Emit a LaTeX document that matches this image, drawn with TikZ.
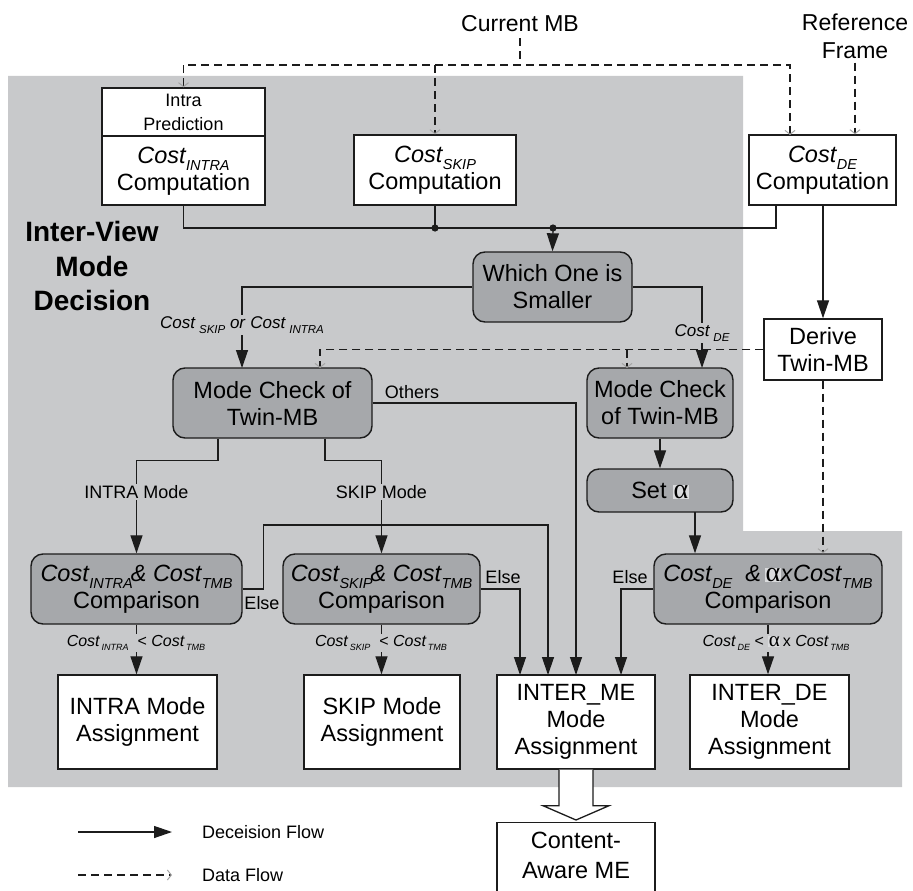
\documentclass[tikz,border=0pt]{standalone}
\usepackage{fontspec}
\setmainfont{Liberation Sans}
\newfontfamily\grkfont{Liberation Serif}
\usetikzlibrary{arrows.meta,calc}

\definecolor{bggray}{RGB}{200,201,203}
\definecolor{boxgray}{RGB}{166,168,171}
\definecolor{alhl}{RGB}{218,219,221}
\definecolor{ink}{RGB}{28,28,28}
\definecolor{tipgray}{RGB}{165,165,165}

% font sizes
\newcommand\bfs{\fontsize{23.5}{27}\selectfont}
\newcommand\sfs{\fontsize{18}{22}\selectfont}
\newcommand\lfs{\fontsize{17}{19}\selectfont}
\newcommand\mfs{\fontsize{16}{18}\selectfont}
% cost symbols: large (inside boxes), edge labels, and condition labels
\newcommand\Cb[1]{\textit{Cost\kern0.5pt\raisebox{-7pt}{\fontsize{14.5}{14.5}\selectfont #1}}}
\newcommand\Cl[1]{\textit{Cost\kern4pt\raisebox{-4.5pt}{\fontsize{11.5}{11.5}\selectfont #1}}}
\newcommand\Cm[1]{\textit{Cost\kern2pt\raisebox{-4.5pt}{\fontsize{9}{9}\selectfont #1}}}
% highlighted alpha
\newcommand\Al[1]{{\setlength\fboxsep{0.5pt}\colorbox{alhl}{\grkfont\fontsize{#1}{#1}\selectfont α}}}

\tikzset{
  ln/.style={draw=ink,line width=1.3pt},
  flow/.style={ln,-{Triangle[length=18pt,width=12pt]}},
  dline/.style={draw=ink,line width=1.4pt,dash pattern=on 8pt off 5pt},
  data/.style={dline,-{Straight Barb[length=4pt,width=10pt,color=tipgray,line width=1pt]}},
  sqbox/.style={draw=ink,line width=1.4pt,fill=white,inner sep=0pt,align=center,font=\bfs},
  rbox/.style={sqbox,fill=boxgray,rounded corners=12pt},
  lab/.style={fill=bggray,inner sep=1.5pt,font=\lfs},
  plain/.style={inner sep=0pt,align=center},
  dot/.style={fill=ink},
}

\begin{document}
\begin{tikzpicture}[x=1pt,y=-1pt]
\useasboundingbox (0,0) rectangle (913,891);
\clip (0,0) rectangle (913,891);
\fill[white] (0,0) rectangle (913,891);

% shaded decision region
\fill[bggray] (8,76) -- (743,76) -- (743,531) -- (902,531) -- (902,787) -- (8,787) -- cycle;

% inputs
\node[plain,font=\fontsize{23}{27}\selectfont,inner ysep=6pt] (curmb) at (520,24) {Current MB};
\node[plain,font=\fontsize{23}{28}\selectfont,inner ysep=4pt] (refframe) at (855,36) {Reference\\Frame};

% title
\node[plain,font=\bfseries\fontsize{28}{34.5}\selectfont] (title) at (92,266) {Inter-View\\Mode\\Decision};

% cost computation boxes
\node[sqbox,minimum width=163pt,minimum height=117pt] (intra) at (183.5,146.5) {};
\coordinate (intradiv) at (0,136);
\draw[draw=ink,line width=1.4pt] (intra.west |- intradiv) -- (intra.east |- intradiv);
\node[plain,font=\fontsize{18}{24}\selectfont] (intrapred) at (183.5,112) {Intra\\Prediction};
\node[plain,font=\bfs] (intracost) at (183.5,171) {\Cb{INTRA}\\Computation};

\node[sqbox,minimum width=162pt,minimum height=70pt] (skip) at (435,170) {\Cb{SKIP}\\Computation};
\node[sqbox,minimum width=147pt,minimum height=70pt] (de) at (822.5,170) {\Cb{DE}\\Computation};

% decision boxes
\node[rbox,minimum width=159pt,minimum height=70pt] (which) at (552.5,287) {Which One is\\Smaller};
\node[sqbox,minimum width=118pt,minimum height=61pt] (derive) at (823,349.5) {Derive\\Twin-MB};
\node[rbox,minimum width=199pt,minimum height=70pt] (mc1) at (272.5,403) {Mode Check of\\Twin-MB};
\node[rbox,minimum width=146pt,minimum height=70pt] (mc2) at (660,403) {Mode Check\\of Twin-MB};
\node[rbox,minimum width=146pt,minimum height=43pt] (seta) at (660,490.5) {Set \Al{28}};

\node[rbox,minimum width=211pt,minimum height=70pt] (cmpi) at (136.5,589) {\Cb{INTRA}\kern-2pt\textit{\& }\Cb{TMB}\\Comparison};
\node[rbox,minimum width=197pt,minimum height=70pt] (cmps) at (381.5,589) {\Cb{SKIP}\kern-2pt\textit{\& }\Cb{TMB}\\Comparison};
\node[rbox,minimum width=228pt,minimum height=70pt] (cmpd) at (768,589) {\Cb{DE}\ \ \textit{\&}\,\Al{28}\textit{x}\Cb{TMB}\\Comparison};

% assignment boxes
\node[sqbox,minimum width=159pt,minimum height=94pt] (asgi) at (137.5,722) {INTRA Mode\\Assignment};
\node[sqbox,minimum width=156pt,minimum height=94pt] (asgs) at (382,722) {SKIP Mode\\Assignment};
\node[sqbox,minimum width=158pt,minimum height=94pt] (asgm) at (576,722) {INTER\_ME\\Mode\\Assignment};
\node[sqbox,minimum width=159pt,minimum height=94pt] (asgd) at (769.5,722) {INTER\_DE\\Mode\\Assignment};

\node[sqbox,minimum width=158pt,minimum height=90pt,anchor=north] (content) at (576,822) {};
\node[plain,font=\fontsize{23.5}{30}\selectfont] (contenttxt) at (576,855) {Content-\\Aware ME};

% data flow (dashed)
\coordinate (jc) at (520,65);
\coordinate (dein1) at (790,135);
\draw[dline] (curmb.south) -- (jc);
\draw[dline,{Straight Barb[length=4pt,width=10pt,color=tipgray,line width=1pt]}-{Straight Barb[length=4pt,width=10pt,color=tipgray,line width=1pt]}]
  (intra.north) -- (intra.north |- jc) -- (jc -| dein1) -- (dein1);
\draw[data] (skip.north |- jc) -- (skip.north);
\draw[data] (refframe.south) -- (refframe.south |- de.north);

\coordinate (mc1d) at (320,368);
\coordinate (mc2d) at (627,368);
\draw[data] (derive.west) -- (mc1d |- derive.west) -- (mc1d);
\draw[data] (mc2d |- derive.west) -- (mc2d);
\draw[data] (derive.south) -- (derive.south |- cmpd.north);

% decision flow (solid)
\coordinate (bus) at (553,228);
\coordinate (debot) at (776,205);
\draw[ln] (intra.south) -- (intra.south |- bus) -- (bus -| debot) -- (debot);
\draw[ln] (skip.south) -- (skip.south |- bus);
\fill[dot] (skip.south |- bus) circle (3.6);
\fill[dot] (bus) circle (3.6);
\draw[flow] (bus) -- (which.north);
\draw[flow] (derive.north |- de.south) -- (derive.north);

\coordinate (mc1in) at (242,368);
\coordinate (mc2in) at (702,368);
\draw[flow] (which.west) -| (mc1in);
\draw[flow] (which.east) -| (mc2in);
\node[lab] (lblsi) at (242,325) {\Cl{SKIP} \textit{or} \Cl{INTRA}};
\node[lab] (lblde) at (702,333) {\Cl{DE}};

% inputs of the INTER_ME assignment
\coordinate (me1) at (520,675);
\coordinate (me2) at (548,675);
\coordinate (me3) at (576,675);
\coordinate (me4) at (621,675);
\coordinate (elsebus) at (548,525);

\draw[flow] (mc1.east) -| (me3);
\node[plain,font=\sfs] (others) at (412,392) {Others};

\draw[flow] ($(mc1.south)+(-54.5,0)$) -- ++(0,22) -| (cmpi.north);
\draw[flow] ($(mc1.south)+(52.5,0)$) -- ++(0,22) -| (cmps.north);
\node[lab,font=\sfs] (lblim) at (136.5,492) {INTRA Mode};
\node[lab,font=\sfs] (lblsm) at (381.5,492) {SKIP Mode};

\draw[flow] (mc2.south) -- (seta.north);
\coordinate (sa) at (695,512);
\draw[flow] (sa) -- (sa |- cmpd.north);

\draw[flow] (cmpi.east) -- ++(21,0) |- (elsebus) -- (me2);
\node[plain,font=\sfs] (else1) at (262,603) {Else};
\draw[flow] (cmps.east) -| (me1);
\node[plain,font=\sfs] (else2) at (503,577) {Else};
\draw[flow] (cmpd.west) -| (me4);
\node[plain,font=\sfs] (else3) at (630,577) {Else};

\draw[flow] (cmpi.south) -- (cmpi.south |- asgi.north);
\draw[flow] (cmps.south) -- (cmps.south |- asgs.north);
\draw[flow] (cmpd.south) -- (cmpd.south |- asgd.north);
\node[lab,font=\mfs] (lbli) at (136,643) {\Cm{INTRA}\ \ < \Cm{TMB}};
\node[lab,font=\mfs] (lbls) at (381,643) {\Cm{SKIP}\ \ < \Cm{TMB}};
\node[lab,font=\mfs] (lbld) at (776,643) {\Cm{DE}\ < \Al{21}\,x \Cm{TMB}};

% hollow arrow to content-aware ME
\draw[ln,fill=white,line join=miter]
  ($(asgm.south)+(-17,0)$) -- ++(0,36) -- ++(-16,0) -- ($(content.north)+(0,-2)$)
  -- ($(asgm.south)+(33,36)$) -- ++(-16,0) -- ($(asgm.south)+(17,0)$);

% legend
\coordinate (lga) at (78,832);
\coordinate (lgb) at (172,832);
\coordinate (lgc) at (78,875);
\coordinate (lgd) at (172,875);
\draw[flow] (lga) -- (lgb);
\draw[data] (lgc) -- (lgd);
\node[plain,font=\sfs,anchor=west] (lgt1) at (202,832) {Deceision Flow};
\node[plain,font=\sfs,anchor=west] (lgt2) at (202,875) {Data Flow};
\end{tikzpicture}
\end{document}
